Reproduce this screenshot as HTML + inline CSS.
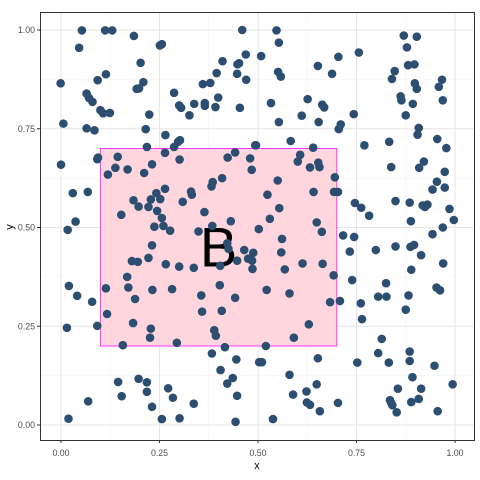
<!DOCTYPE html>
<html><head><meta charset="utf-8"><style>
html,body{margin:0;padding:0;background:#fff;}
svg{display:block;font-family:"Liberation Sans",sans-serif;}
</style></head><body>
<svg id="chart" width="480" height="480" viewBox="0 0 480 480" xmlns="http://www.w3.org/2000/svg">
<rect x="0" y="0" width="480" height="480" fill="#fff"/>
<g id="grid"></g>
<g id="annot"></g>
<g id="pts"></g>
<rect x="40.5" y="12.5" width="434" height="428" fill="none" stroke="#333" stroke-width="1"/>
<g id="axes"></g>
<text x="257" y="469" text-anchor="middle" font-size="11" fill="#000">x</text>
<text x="13" y="227" text-anchor="middle" font-size="11" fill="#000" transform="rotate(-90 13 227)">y</text>
</svg>
<script>
const xTicks = [0, 0.25, 0.5, 0.75, 1];
const xTickLabels = ["0.00", "0.25", "0.50", "0.75", "1.00"];
const yTicks = [0, 0.25, 0.5, 0.75, 1];
const yTickLabels = ["0.00", "0.25", "0.50", "0.75", "1.00"];
const rectX = [0.1, 0.7];
const rectY = [0.2, 0.7];
const annotLabel = "B";
const annotPos = [0.4, 0.45];
const xs = [.053,.112,.130,.185,.460,.046,.256,.251,.469,.202,.410,.448,.452,.395,.447,.114,.093,-.001,.209,.192,.198,.360,.379,.470,.287,.065,.071,.080,.399,.300,.305,.338,.365,.365,.392,.454,.100,.107,.124,.224,.326,.006,.065,.085,.215,.265,.302,.297,.287,.218,.493,.094,.092,.144,.264,.301,.442,.423,.480,0,.138,.169,.231,.484,.119,.211,.409,.385,.382,.030,.068,.264,.242,.330,.332,.184,.228,.252,.197,.222,.309,.244,.364,.153,.256,.037,.431,
.547,.553,.508,.704,.756,.652,.688,.551,.558,.870,.903,.878,.881,.897,.847,.840,.898,.903,.967,.959,.969,.862,.864,.893,.875,.533,.626,.663,.668,.611,.743,.553,.654,.710,.705,.908,.905,.955,.978,.833,.770,.583,.495,.640,.607,.601,.653,.656,.632,.838,.921,.909,.974,.695,.550,.954,.943,.974,.524,.641,.693,.703,.746,.762,.782,.849,.885,.918,.930,.924,.986,.997,.554,.530,.649,.888,
.017,.237,.260,.277,.349,.384,.422,.425,.465,.488,.475,.485,.447,.486,.404,.231,.180,.195,.222,.266,.300,.337,.168,.020,.041,.079,.114,.171,.188,.232,.282,.356,.403,.442,.117,.183,.358,.408,.015,.092,.228,.226,.389,.393,.157,.294,.416,.383,.445,.503,.405,.436,.422,.145,.197,.218,.218,.272,.284,.154,.069,.231,.337,.447,.019,.256,.301,.443,
.502,.662,.561,.559,.613,.664,.568,.692,.522,.580,.683,.708,.629,.591,.520,.716,.744,.733,.799,.849,.887,.896,.914,.943,.969,.889,.970,.739,.825,.805,.826,.882,.875,.953,.962,.761,.764,.814,.805,.832,.885,.885,.948,.510,.652,.752,.580,.649,.623,.589,.624,.632,.657,.703,.538,.892,.855,.914,.994,.835,.838,.841,.852,.889,.908,.956];
const ys = [.999,.999,.999,.985,1.0,.955,.964,.961,.938,.917,.921,.913,.916,.891,.889,.888,.873,.865,.868,.851,.852,.863,.866,.874,.841,.839,.828,.818,.829,.809,.803,.813,.815,.808,.805,.803,.797,.789,.790,.786,.784,.763,.751,.746,.749,.734,.721,.717,.704,.704,.708,.677,.673,.679,.689,.672,.690,.677,.675,.659,.651,.647,.660,.646,.634,.638,.625,.615,.604,.587,.590,.598,.587,.591,.583,.569,.571,.572,.553,.552,.565,.542,.539,.532,.524,.515,.516,
.999,.968,.934,.932,.943,.909,.889,.894,.882,.986,.983,.956,.911,.913,.896,.876,.865,.851,.874,.856,.822,.832,.822,.813,.784,.815,.825,.811,.804,.783,.787,.767,.767,.761,.749,.752,.735,.724,.701,.717,.708,.719,.708,.702,.684,.667,.664,.653,.652,.653,.667,.651,.641,.627,.619,.616,.596,.601,.583,.590,.590,.590,.562,.550,.530,.567,.563,.556,.558,.552,.547,.519,.549,.522,.513,.516,
.494,.502,.504,.492,.490,.504,.460,.446,.443,.436,.421,.416,.416,.395,.403,.455,.415,.413,.423,.407,.401,.398,.375,.352,.327,.312,.346,.348,.319,.342,.344,.328,.354,.322,.281,.258,.287,.289,.246,.251,.244,.221,.240,.226,.202,.208,.197,.181,.166,.159,.139,.119,.105,.109,.117,.108,.084,.093,.069,.073,.060,.046,.054,.074,.016,.015,.017,.008,
.496,.489,.471,.437,.409,.408,.394,.379,.342,.333,.311,.314,.255,.221,.200,.480,.476,.439,.443,.452,.451,.456,.430,.483,.500,.393,.409,.367,.359,.325,.325,.328,.292,.348,.341,.308,.268,.218,.182,.158,.186,.162,.150,.159,.169,.158,.127,.103,.085,.077,.057,.051,.035,.056,.015,.121,.092,.092,.103,.063,.056,.050,.032,.058,.066,.035];

const NS = "http://www.w3.org/2000/svg";
const X0 = 40, X1 = 474, Y0 = 12, Y1 = 440;
const xScale = v => 61 + v * 394;
const yScale = v => 425 - v * 395;
function mk(tag, attrs, parent) {
  const e = document.createElementNS(NS, tag);
  for (const k in attrs) e.setAttribute(k, attrs[k]);
  parent.appendChild(e);
  return e;
}
const grid = document.getElementById('grid');
const axes = document.getElementById('axes');
for (let i = 0; i < xTicks.length - 1; i++) {
  const m = (xTicks[i] + xTicks[i + 1]) / 2;
  const l = mk('line', {x1: xScale(m), x2: xScale(m), y1: Y0, y2: Y1, stroke: '#f2f2f2', 'stroke-width': 0.6}, grid);
  
  
}
for (let i = 0; i < yTicks.length - 1; i++) {
  const m = (yTicks[i] + yTicks[i + 1]) / 2;
  const l = mk('line', {x1: X0, x2: X1, y1: yScale(m), y2: yScale(m), stroke: '#f2f2f2', 'stroke-width': 0.6}, grid);
  
  
}
xTicks.forEach((t, i) => {
  const l = mk('line', {x1: xScale(t), x2: xScale(t), y1: Y0, y2: Y1, stroke: '#e6e6e6', 'stroke-width': 1.1}, grid);
  
  
  const tk = mk('line', {x1: xScale(t), x2: xScale(t), y1: Y1, y2: Y1 + 3, stroke: '#333'}, axes);
  
  
  const tx = mk('text', {x: xScale(t), y: 456, 'text-anchor': 'middle', 'font-size': 8.8, fill: '#4d4d4d'}, axes);
  tx.textContent = xTickLabels[i];
  
  
});
yTicks.forEach((t, i) => {
  const l = mk('line', {x1: X0, x2: X1, y1: yScale(t), y2: yScale(t), stroke: '#e6e6e6', 'stroke-width': 1.1}, grid);
  
  
  const tk = mk('line', {x1: X0 - 3, x2: X0, y1: yScale(t), y2: yScale(t), stroke: '#333'}, axes);
  
  
  const tx = mk('text', {x: 35, y: yScale(t) + 3, 'text-anchor': 'end', 'font-size': 8.8, fill: '#4d4d4d'}, axes);
  tx.textContent = yTickLabels[i];
  
  
});
const annot = document.getElementById('annot');
const r = mk('rect', {x: xScale(rectX[0]), y: yScale(rectY[1]), width: xScale(rectX[1]) - xScale(rectX[0]), height: yScale(rectY[0]) - yScale(rectY[1]), fill: '#ffd6de', stroke: '#ff33ff', 'stroke-width': 1}, annot);


const bt = mk('text', {x: xScale(annotPos[0]), y: yScale(annotPos[1]) + 19, 'text-anchor': 'middle', 'font-size': 56, fill: '#000'}, annot);
bt.textContent = annotLabel;


const pts = document.getElementById('pts');
for (let i = 0; i < xs.length; i++) {
  const c = mk('circle', {cx: xScale(xs[i]), cy: yScale(ys[i]), r: 4.3, fill: '#2c4e71'}, pts);
  
  
}
</script>
</body></html>
